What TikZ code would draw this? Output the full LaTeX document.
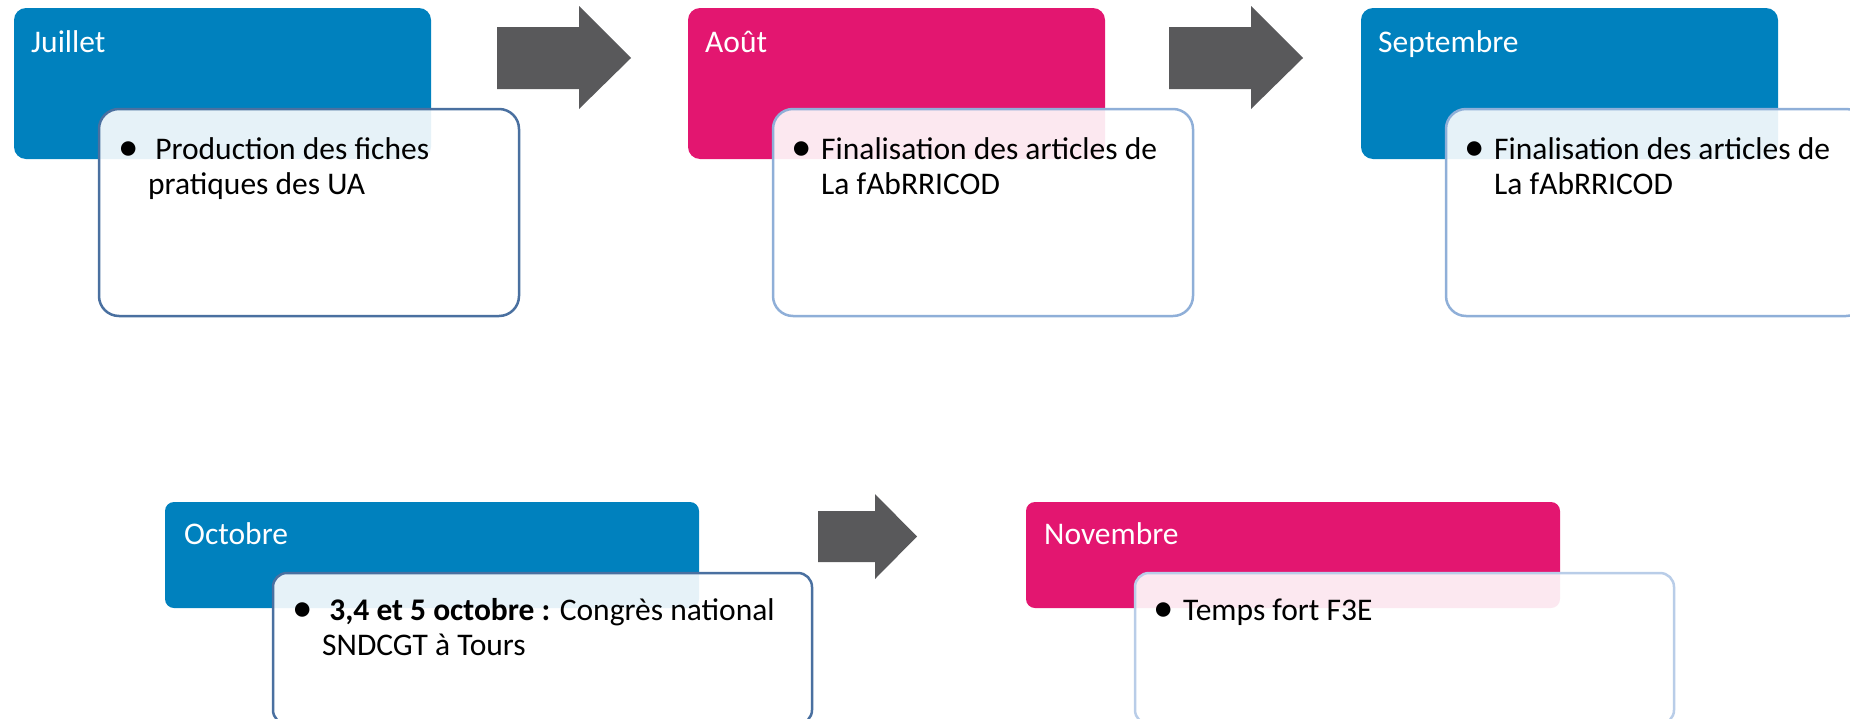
\documentclass[tikz,border=0pt]{standalone}
\usepackage{fontspec}
\setmainfont{Carlito}
\usepackage{tikz}
\usetikzlibrary{
    positioning,
    calc
}
\definecolor{moisblue}{RGB}{0,129,190}
\definecolor{moispink}{RGB}{227,22,112}
\definecolor{flechegray}{RGB}{89,89,91}
\definecolor{borddark}{RGB}{74,112,160}
\definecolor{bordlight}{RGB}{143,175,216}
\definecolor{bordpale}{RGB}{185,205,232}
\newcommand{\puce}{\makebox[23pt][l]{\hspace{-7pt}\raisebox{-1.5pt}{\scalebox{1.3}{\textbullet}}}}

\begin{document}
\begin{tikzpicture}[
    x=1pt, y=-1pt,
    header/.style={rectangle, rounded corners=12pt, anchor=north west, inner sep=0pt, outer sep=0pt, minimum width=417pt, minimum height=151pt},
    card/.style={rectangle, rounded corners=20pt, draw, line width=2.5pt, fill=white, fill opacity=0.9, anchor=north west, inner sep=0pt, outer sep=0pt, minimum width=420pt, minimum height=207pt},
    month/.style={anchor=base west, inner sep=0pt, text=white, font=\fontsize{31.5}{35.5}\selectfont},
    item/.style={anchor=base west, inner sep=0pt, align=left, font=\fontsize{31.5}{35.5}\selectfont},
    fleche/.style={fill=flechegray}
]
\useasboundingbox (0,0) rectangle (1850,718);

% Juillet
\node[header, fill=moisblue] (jul) at (14,8) {};
\node[month] (julT) at (31,52) {Juillet};
\node[card, draw=borddark] (julB) at (99,109) {};
\node[item] (julI) at (125,159) {\begin{tabular}[t]{@{}l@{}l@{}}\puce & \ Production des fiches\\ & pratiques des UA\end{tabular}};

% Aout
\node[header, fill=moispink] (aou) at (688,8) {};
\node[month] (aouT) at (705,52) {Août};
\node[card, draw=bordlight] (aouB) at (773,109) {};
\node[item] (aouI) at (798,159) {\begin{tabular}[t]{@{}l@{}l@{}}\puce & Finalisation des articles de\\ & La fAbRRICOD\end{tabular}};

% Septembre
\node[header, fill=moisblue] (sep) at (1361,8) {};
\node[month] (sepT) at (1378,52) {Septembre};
\node[card, draw=bordlight] (sepB) at (1446,109) {};
\node[item] (sepI) at (1471,159) {\begin{tabular}[t]{@{}l@{}l@{}}\puce & Finalisation des articles de\\ & La fAbRRICOD\end{tabular}};

% Arrows (top row)
\foreach \n/\p in {1/497, 2/1169} {
    \coordinate (fl\n) at (\p,58);
    \fill[fleche] ($(fl\n)+(0,-31)$) -- ++(82,0) -- ++(0,-21) -- ++(52,52) -- ++(-52,51) -- ++(0,-20) -- ++(-82,0) -- cycle;
}

% Octobre
\node[header, fill=moisblue, rounded corners=9pt, minimum width=534pt, minimum height=106pt] (oct) at (165,502) {};
\node[month] (octT) at (184,544) {Octobre};
\node[card, draw=borddark, rounded corners=14pt, minimum width=539pt, minimum height=151pt] (octB) at (273,573) {};
\node[item] (octI) at (299,620) {\begin{tabular}[t]{@{}l@{}l@{}}\puce & \ \textbf{3,4 et 5 octobre :} Congrès national\\ & SNDCGT à Tours\end{tabular}};

% Novembre
\node[header, fill=moispink, rounded corners=9pt, minimum width=534pt, minimum height=106pt] (nov) at (1026,502) {};
\node[month] (novT) at (1044,544) {Novembre};
\node[card, draw=bordpale, rounded corners=14pt, minimum width=539pt, minimum height=151pt] (novB) at (1135,573) {};
\node[item] (novI) at (1160,620) {\begin{tabular}[t]{@{}l@{}l@{}}\puce & Temps fort F3E\end{tabular}};

% Arrow (bottom row)
\coordinate (fl3) at (818,536.5);
\fill[fleche] ($(fl3)+(0,-25.5)$) -- ++(57,0) -- ++(0,-17) -- ++(42,42.5) -- ++(-42,42.5) -- ++(0,-17) -- ++(-57,0) -- cycle;

\end{tikzpicture}
\end{document}
